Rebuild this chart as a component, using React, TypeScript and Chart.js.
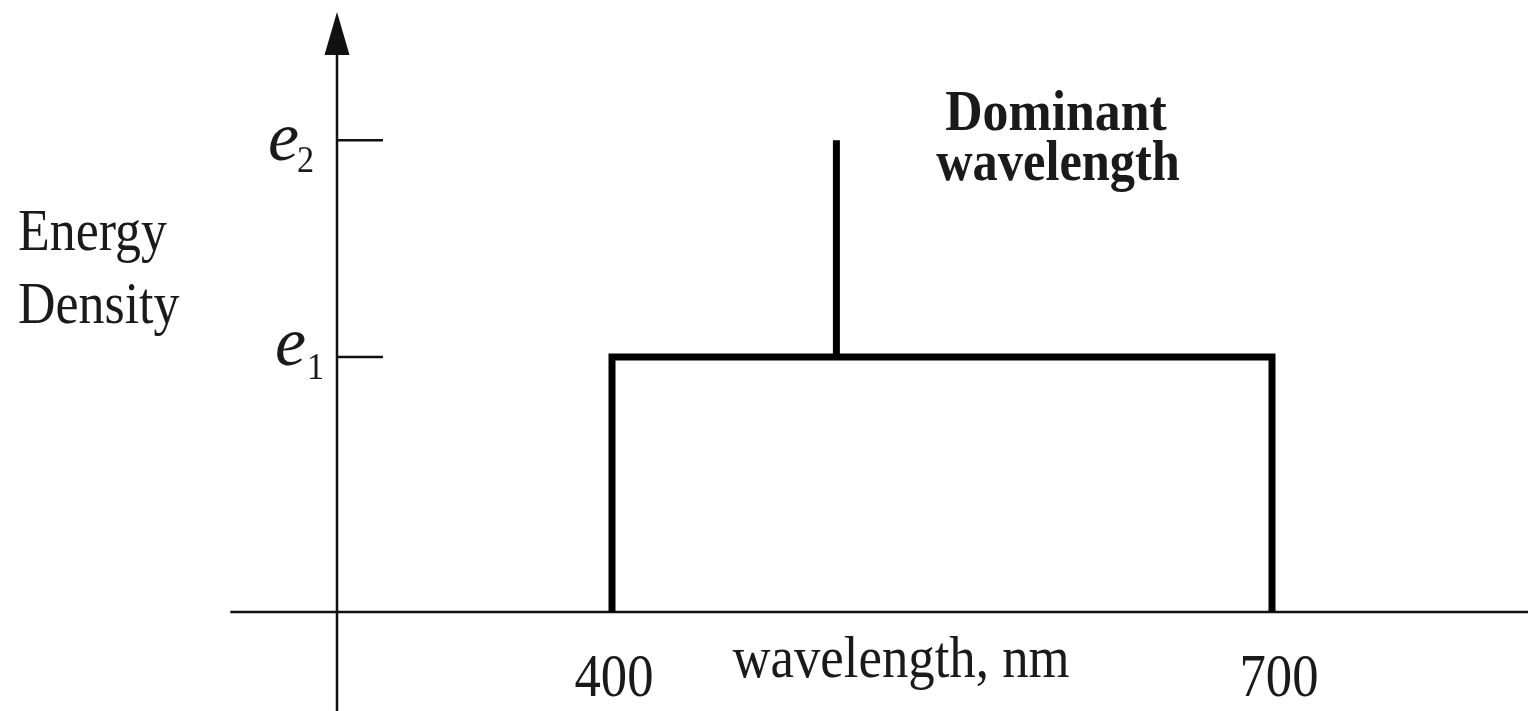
import React, { useEffect, useRef } from "react";
import { Chart, registerables } from "chart.js";

Chart.register(...registerables);

// ---- data ----
const wavelengthTicks = [400, 700];
const wavelengthTickLabels = ["400", "700"];
const energyLevels = [1, 1.85];
const energyLabelBase = ["e", "e"];
const energyLabelSub = ["1", "2"];
const spectrumWavelengths = [400, 400, 700, 700];
const spectrumEnergy = [0, 1, 1, 0];
const dominantWavelength = [502, 502];
const dominantEnergy = [1, 1.85];
const yAxisWavelength = 275;
const xAxisStartWavelength = 226.5;
const xAxisTitle = "wavelength, nm";
const yAxisTitle = ["Energy", "Density"];
const dominantLabel = ["Dominant", "wavelength"];

const SERIF = '"Liberation Serif", "Times New Roman", serif';

function drawScaledText(
  ctx: CanvasRenderingContext2D,
  text: string,
  x: number,
  y: number,
  font: string,
  sx: number,
  align: CanvasTextAlign
) {
  ctx.save();
  ctx.font = font;
  ctx.textAlign = align;
  ctx.textBaseline = "alphabetic";
  ctx.translate(x, y);
  ctx.scale(sx, 1);
  ctx.fillText(text, 0, 0);
  ctx.restore();
}

const diagramPlugin = {
  id: "diagram",
  beforeDatasetsDraw(chart: any) {
    const ctx: CanvasRenderingContext2D = chart.ctx;
    const xs = chart.scales.x;
    const ys = chart.scales.y;
    const ax = xs.getPixelForValue(yAxisWavelength);
    const ay = ys.getPixelForValue(0);
    ctx.save();
    ctx.strokeStyle = "#111";
    ctx.fillStyle = "#111";
    ctx.lineWidth = 2.5;
    // x axis
    ctx.beginPath();
    ctx.moveTo(xs.getPixelForValue(xAxisStartWavelength), ay);
    ctx.lineTo(chart.width, ay);
    ctx.stroke();
    // y axis
    ctx.beginPath();
    ctx.moveTo(ax, chart.height);
    ctx.lineTo(ax, 50);
    ctx.stroke();
    // arrow head
    ctx.beginPath();
    ctx.moveTo(ax, 12);
    ctx.lineTo(ax - 12.5, 55);
    ctx.lineTo(ax + 12.5, 55);
    ctx.closePath();
    ctx.fill();
    // energy ticks
    energyLevels.forEach((v) => {
      const py = ys.getPixelForValue(v);
      ctx.beginPath();
      ctx.moveTo(ax, py);
      ctx.lineTo(ax + 46, py);
      ctx.stroke();
    });
    ctx.restore();

    ctx.save();
    ctx.fillStyle = "#1a1a1a";
    // energy labels
    const eOffsets = [
      { dx: -62, dy: 8, sdx: -30, sdy: 22 },
      { dx: -69, dy: 20, sdx: -40, sdy: 32 },
    ];
    energyLevels.forEach((v, i) => {
      const py = ys.getPixelForValue(v);
      const o = eOffsets[i];
      drawScaledText(ctx, energyLabelBase[i], ax + o.dx, py + o.dy, `italic 70px ${SERIF}`, 1, "left");
      drawScaledText(ctx, energyLabelSub[i], ax + o.sdx, py + o.sdy, `38px ${SERIF}`, 0.9, "left");
    });
    // wavelength tick labels
    wavelengthTicks.forEach((v, i) => {
      const px = xs.getPixelForValue(v);
      drawScaledText(ctx, wavelengthTickLabels[i], px + 2 + i * 5, ay + 84, `62px ${SERIF}`, 0.85, "center");
    });
    // x axis title
    drawScaledText(ctx, xAxisTitle, 901, ay + 65, `60px ${SERIF}`, 0.88, "center");
    // y axis title
    drawScaledText(ctx, yAxisTitle[0], 18, 250, `60px ${SERIF}`, 0.865, "left");
    drawScaledText(ctx, yAxisTitle[1], 18, 323, `60px ${SERIF}`, 0.865, "left");
    // dominant label
    drawScaledText(ctx, dominantLabel[0], 1056, 130, `bold 56px ${SERIF}`, 0.925, "center");
    drawScaledText(ctx, dominantLabel[1], 1058, 180, `bold 56px ${SERIF}`, 0.9, "center");
    ctx.restore();
  },
};

export default function App() {
  const canvasRef = useRef<HTMLCanvasElement | null>(null);

  useEffect(() => {
    const canvas = canvasRef.current;
    if (!canvas) return;
    const chart = new Chart(canvas, {
      type: "scatter",
      data: {
        datasets: [
          {
            label: "spectrum",
            data: spectrumWavelengths.map((x, i) => ({ x, y: spectrumEnergy[i] })),
            showLine: true,
            borderColor: "#000",
            borderWidth: 7,
            borderJoinStyle: "miter",
            borderCapStyle: "butt",
            pointRadius: 0,
            fill: false,
          },
          {
            label: "dominant",
            data: dominantWavelength.map((x, i) => ({ x, y: dominantEnergy[i] })),
            showLine: true,
            borderColor: "#000",
            borderWidth: 7,
            borderCapStyle: "butt",
            pointRadius: 0,
            fill: false,
          },
        ],
      },
      options: {
        animation: false,
        responsive: false,
        devicePixelRatio: 1,
        layout: { padding: 0 },
        plugins: { legend: { display: false }, tooltip: { enabled: false } },
        scales: {
          x: { type: "linear", min: 400 - 612 / 2.2, max: 400 + 916 / 2.2, display: false },
          y: { type: "linear", min: -99 / 255, max: 612 / 255, display: false },
        },
        elements: { line: { tension: 0 } },
      },
      plugins: [diagramPlugin],
    } as any);
    return () => chart.destroy();
  }, []);

  return (
    <div style={{ position: "absolute", left: 0, top: 0, width: 1528, height: 711, background: "#fff" }}>
      <canvas ref={canvasRef} width={1528} height={711} style={{ display: "block" }} />
    </div>
  );
}
